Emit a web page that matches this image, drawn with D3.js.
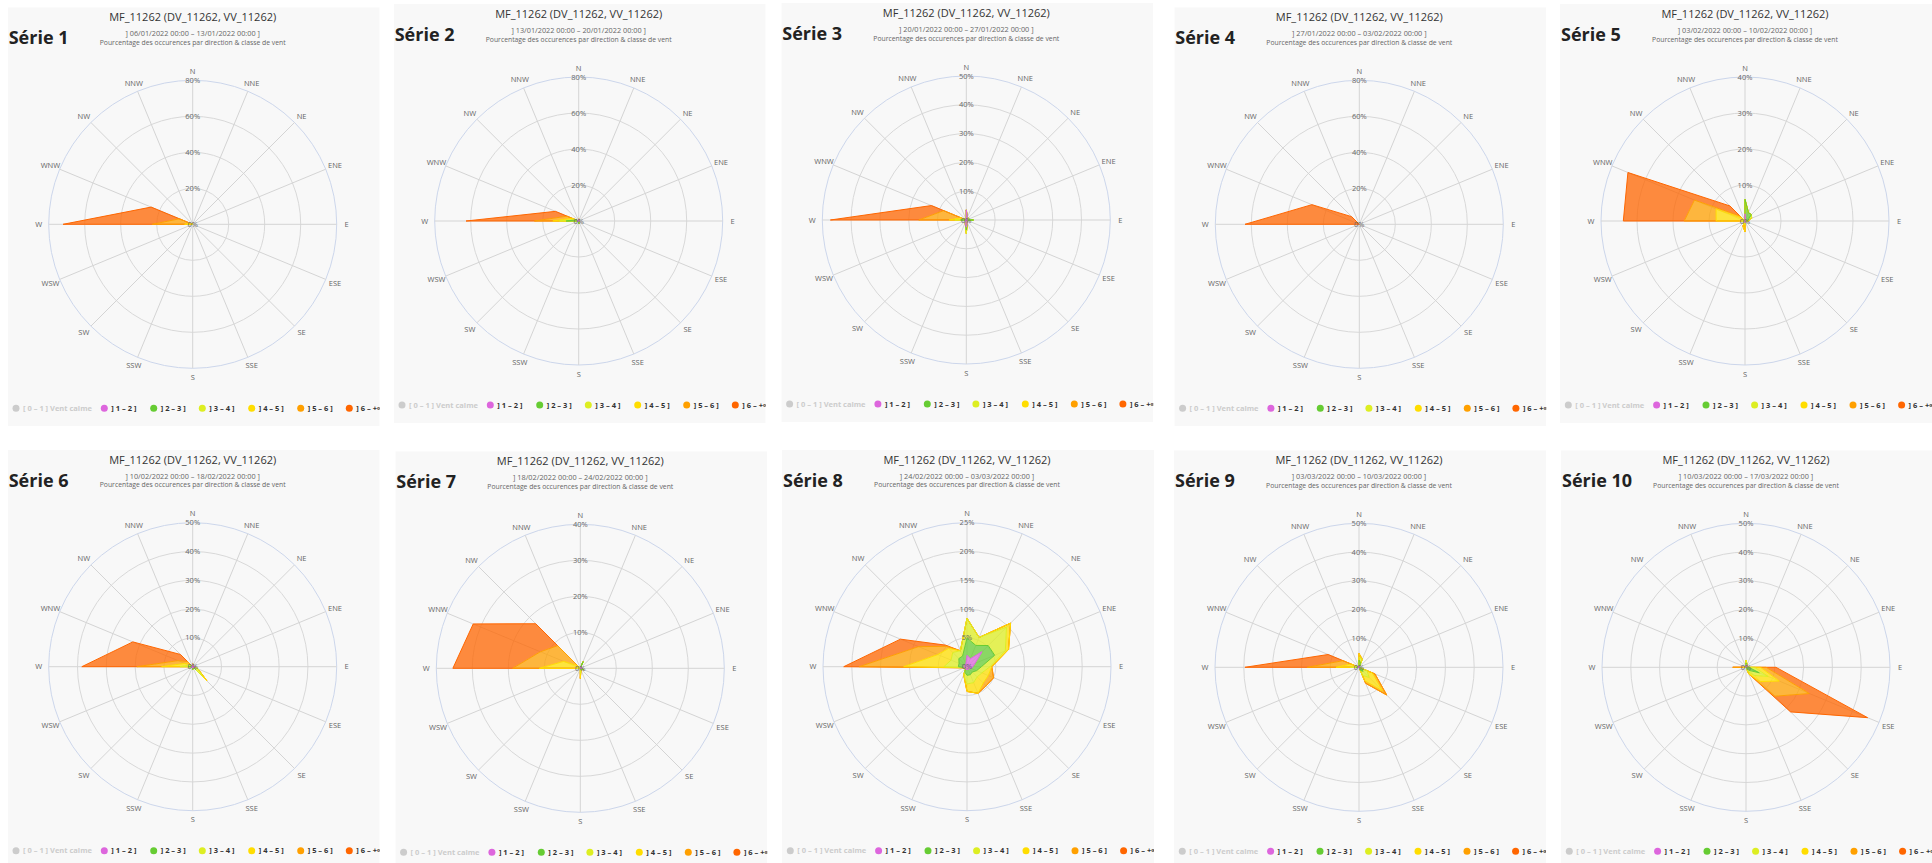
<!DOCTYPE html>
<html><head><meta charset="utf-8">
<script src="https://cdn.jsdelivr.net/npm/d3@7"></script>
<style>
body{margin:0;background:#fff;}
svg{display:block;}
text{font-family:"Open Sans","Noto Sans",sans-serif;}
</style>
</head><body>
<svg id="chart" width="1932" height="863"></svg>
<script>
// ---------- data ----------
const directions = ["N","NNE","NE","ENE","E","ESE","SE","SSE","S","SSW","SW","WSW","W","WNW","NW","NNW"];
const classLabels = ["[ 0 – 1 ] Vent calme","] 1 – 2 ]","] 2 – 3 ]","] 3 – 4 ]","] 4 – 5 ]","] 5 – 6 ]","] 6 – +∞ ["];
const classColors = ["#cccccc","#dd66dd","#66cc33","#ddee22","#ffdd00","#ffa000","#ff6600"];
const seriesNames = ["Série 1","Série 2","Série 3","Série 4","Série 5","Série 6","Série 7","Série 8","Série 9","Série 10"];
const stationTitle = "MF_11262 (DV_11262, VV_11262)";
const subtitleText = "Pourcentage des occurences par direction & classe de vent";
const periods = [
  "] 06/01/2022 00:00 – 13/01/2022 00:00 ]",
  "] 13/01/2022 00:00 – 20/01/2022 00:00 ]",
  "] 20/01/2022 00:00 – 27/01/2022 00:00 ]",
  "] 27/01/2022 00:00 – 03/02/2022 00:00 ]",
  "] 03/02/2022 00:00 – 10/02/2022 00:00 ]",
  "] 10/02/2022 00:00 – 18/02/2022 00:00 ]",
  "] 18/02/2022 00:00 – 24/02/2022 00:00 ]",
  "] 24/02/2022 00:00 – 03/03/2022 00:00 ]",
  "] 03/03/2022 00:00 – 10/03/2022 00:00 ]",
  "] 10/03/2022 00:00 – 17/03/2022 00:00 ]"
];
const axisMax  = [80,80,50,80,40,50,40,25,50,50];
const axisStep = [20,20,10,20,10,10,10,5,10,10];

// each series: classes ]1-2] ]2-3] ]3-4] ]4-5] ]5-6] ]6-..[ ; 16 directions N..NNW
//                 N  NNE NE ENE E  ESE SE SSE S  SSW SW WSW W    WNW  NW  NNW
const serie1 = [
  [0,0,0,0,0,0,0,0,0,0,0,0,0,0,0,0],
  [0,0,0,0,0,0,0,0,0,0,0,0,0,0,0,0],
  [0,0,0,0,0,0,0,0,0,0,0,0,0.5,0,0,0],
  [0,0,0,0,0,0,0,0,0,0,0,0,4,2,0,0],
  [0,0,0,0,0,0,0,0,0,0,0,0,18,6,0,0],
  [0,0,0,0,0,0,0,0,0,0,0,0,49.5,17,0,0]
];
const serie2 = [
  [1,1,0,0,0.5,0,0,0,0,0,0,0,1,0.5,0,0],
  [0,0,0,0,0,0,0,0.5,1.5,0,0,0,6,1,0,0],
  [0,0,0,0,0,0,0,0,0,0,0,0,3.7,1,0,0],
  [0,0,0,0,0,0,0,0,0,0,0,0,3.7,1.5,0,0],
  [0,0,0,0,0,0,0,0,0,0,0,0,10.2,3,0,0],
  [0,0,0,0,0,0,0,0,0,0,0,0,38,7,0,0]
];
const serie3 = [
  [3.5,1,0,0,0.5,0,0,1,2.5,1,0,0,0.5,0,0,0],
  [0,0,1,0,2,0,0.5,0,1,0,0,0,1.5,0,0,0],
  [0,0,0,0,0,0,0,0,1.2,0,0,0,2,0.5,0,0],
  [0,0,0,0,0,0,0,0,0,0,0,0,2,1.5,0,0],
  [0,0,0,0,0,0,0,0,0,0,0,0,10.5,6.5,0,0],
  [0,0,0,0,0,0,0,0,0,0,0,0,30.7,4.6,0,0]
];
const serie4 = [
  [0,0,0,0,0,0,0,0,0,0,0,0,0,0,0,0],
  [0,0,0,0,0,0,0,0,0,0,0,0,0,0,0,0],
  [0,0,0,0,0,0,0,0,0,0,0,0,0,0,0,0],
  [0,0,0,0,0,0,0,0,0,0,0,0,0,0,0,0],
  [0,0,0,0,0,0,0,0,0,0,0,0,0,0,0,0],
  [0,0,0,0,0,0,0,0,0,0,0,0,63.5,28.5,6,0]
];
const serie5 = [
  [2,0.5,0,0,0,0,0,0,0.5,0,0,0,0,0,0,0],
  [4,2,2.5,1,0.5,0,0,0,0,0,0,0,0,0,0,0],
  [0,0,0,1,0.5,0,0,0,0.5,0.5,0,0,1,0,0,0],
  [0,0,0,0,0,0,0,0,2,1,0,0,7,8.7,1,0],
  [0,0,0,0,0,0,0,0,0,0,0,0,8.9,6.5,1,0],
  [0,0,0,0,0,0,0,0,0,0,0,0,16.9,20,3.9,0]
];
const serie6 = [
  [1,0,0,0,1,0,0.5,0,0.5,0,0,0,0.5,0,0,0],
  [0,0,0,0,0,0.5,1,0,0.5,0,0,0,1,0.5,0,0],
  [0,0,0,0,0,1.5,3.5,0,0,0,0,0,2.9,1,0,0],
  [0,0,0,0,0,0,2,0,0,0,0,0,6.4,1.5,1,0],
  [0,0,0,0,0,0,0,0,0,0,0,0,8.6,2.5,1.5,0],
  [0,0,0,0,0,0,0,0,0,0,0,0,19.1,17,3.5,0]
];
const serie7 = [
  [0,0.5,0,0,0.5,0,0,0,0,0,0,0,0,0,0,0],
  [0,1.5,0,0,0,1,0,0.5,0,0,0,0,0,0,0,0],
  [0,0,0,0,0,0,0,0,1.5,0,0,0,1,0.5,0,0],
  [0,0,0,0,0,0,0,0,1.3,0,0,0,10.4,4.5,1,0],
  [0,0,0,0,0,0,0,0,0,0,0,0,7.4,7,7.9,0],
  [0,0,0,0,0,0,0,0,0,0,0,0,16.6,20.2,8.6,0]
];
const serie8 = [
  [2,1.5,3.7,1.5,1,0.8,0.5,0.5,0.5,0.5,0.3,0.5,0.5,0.5,0.5,0.5],
  [3,2.5,1.5,3.7,1.5,1,0.8,1,1,0.5,0,0,1,1,1.5,1.5],
  [3.4,1.5,4.5,2,1.5,1,1.2,1.5,1.5,0.5,0,0,2.5,1.5,1.5,1],
  [0,0,1,0.6,0.3,1.2,1.5,2,1.3,0,0,0,7,2.5,1,0],
  [0,0,0,0,0,1,0.7,0,0,0,0,0,7.7,3.6,0.5,0],
  [0,0,0,0,0,0,0,0,0,0,0,0,2.7,3.4,0.3,0]
];
const serie9 = [
  [0.5,0,0,0,0,0,0.5,0,0,0,0,0,0.5,0,0,0],
  [2,1.5,0,0,0,1,1.5,1,0,0,0,0,0.5,0,0,0],
  [1,1.5,0,0,0,2,3,2,0,0,0,0,2,1,0,0],
  [1.3,0,0,0,0,2,6.5,2,0,0,0,0,5,2,0,0],
  [0,0,0,0,0,1,2.1,1,0,0,0,0,10,3,0,0],
  [0,0,0,0,0,0,0,0,0,0,0,0,21.6,5.6,0,0]
];
const serie10 = [
  [0.5,1,0,0,0,0,0,0,0,0,0,0,0,0,0,0],
  [1,0,0,0,1,5,1.5,0.5,0,0,0,0,0,0,0,0],
  [1,0,0,0,2,3.3,2.5,1,0,0,0,0,0,0,0,0],
  [0,0,0,0,2,4.2,3,1,0,0,0,0,1,0,0,0],
  [0,0,0,0,2,11.3,7.2,0,0,0,0,0,3.6,0,0,0],
  [0,0,0,0,3.4,21.9,7.7,0,0,0,0,0,0,0,0,0]
];
const allSeries = [serie1,serie2,serie3,serie4,serie5,serie6,serie7,serie8,serie9,serie10];

// ---------- layout ----------
const panelCenters = [[192.7,224.3],[578.7,221],[966.3,220],[1359.3,224.3],[1745,221],
                      [192.7,666.7],[580.3,668.3],[967,666.7],[1359,667.3],[1746,667.3]];
const R = 144;
const legendOffsets = [-176.7,-88.4,-39,9.6,59,108,156.6];

const svg = d3.select("#chart");
const angle = d3.scaleLinear().domain([0, directions.length]).range([0, 2*Math.PI]);

allSeries.forEach((serie, p) => {
  const [cx, cy] = panelCenters[p];
  const g = svg.append("g");
  const clipId = "clip" + p;
  svg.append("clipPath").attr("id", clipId).append("rect")
    .attr("x", cx-185).attr("y", cy-217).attr("width", 372).attr("height", 419);
  g.attr("clip-path", `url(#${clipId})`);
  g.append("rect").attr("x", cx-185).attr("y", cy-217).attr("width", 372).attr("height", 419).attr("fill", "#f8f8f8");

  const r = d3.scaleLinear().domain([0, axisMax[p]]).range([0, R]);
  const ticks = d3.range(0, axisMax[p] + 0.001, axisStep[p]);
  const plot = g.append("g").attr("transform", `translate(${cx},${cy})`);

  // grid circles
  plot.selectAll("circle.grid").data(ticks.slice(1)).join("circle")
    .attr("r", d => r(d)).attr("fill", "none")
    .attr("stroke", d => d === axisMax[p] ? "#ccd6eb" : "#d8d8d8").attr("stroke-width", 1);
  // spokes
  plot.selectAll("line.spoke").data(directions).join("line")
    .attr("x1", 0).attr("y1", 0)
    .attr("x2", (d,i) => R*Math.sin(angle(i))).attr("y2", (d,i) => -R*Math.cos(angle(i)))
    .attr("stroke", "#d4d4d4").attr("stroke-width", 1);

  // stacked cumulative values
  const cum = [];
  let run = directions.map(() => 0);
  serie.forEach(cls => { run = run.map((v,i) => v + cls[i]); cum.push(run.slice()); });
  const radial = d3.lineRadial().angle((d,i) => angle(i)).radius(d => r(d)).curve(d3.curveLinearClosed);
  const zero = directions.map(() => 0);

  cum.forEach((outer, k) => {
    const inner = k === 0 ? zero : cum[k-1];
    plot.append("path")
      .attr("d", radial(outer) + radial(inner))
      .attr("fill", classColors[k+1]).attr("fill-opacity", 0.75)
      .attr("fill-rule", "evenodd").attr("stroke", "none");
  });
  // outlines: outer classes first so inner class lines sit on top where they coincide
  for (let k = cum.length - 1; k >= 0; k--) {
    if (d3.max(serie[k]) > 0)
      plot.append("path").attr("d", radial(cum[k]))
        .attr("fill", "none").attr("stroke", classColors[k+1]).attr("stroke-width", 1);
  }

  // tick labels
  plot.selectAll("text.tick").data(ticks).join("text")
    .attr("x", 0).attr("y", d => -r(d) + 2.5)
    .attr("text-anchor", "middle").attr("font-size", 7.5).attr("fill", "#666")
    .text(d => d + "%");
  // direction labels
  plot.selectAll("text.dir").data(directions).join("text")
    .attr("x", (d,i) => (R+10)*Math.sin(angle(i)))
    .attr("y", (d,i) => -(R+9)*Math.cos(angle(i)) + 2.7)
    .attr("text-anchor", "middle").attr("font-size", 7.5).attr("fill", "#666")
    .text(d => d);

  // titles
  g.append("text").attr("x", cx).attr("y", cy-203).attr("text-anchor", "middle")
    .attr("font-size", 11).attr("fill", "#333").text(stationTitle);
  g.append("text").attr("x", cx).attr("y", cy-188).attr("text-anchor", "middle")
    .attr("font-size", 7.3).attr("fill", "#666").text(periods[p]);
  g.append("text").attr("x", cx).attr("y", cy-179.5).attr("text-anchor", "middle")
    .attr("font-size", 6.8).attr("fill", "#666").text(subtitleText);
  g.append("text").attr("x", cx-184).attr("y", cy-180).attr("font-size", 18)
    .attr("font-weight", "bold").attr("fill", "#222").text(seriesNames[p]);

  // legend
  const leg = g.append("g").attr("transform", `translate(${cx},${cy+184})`);
  classLabels.forEach((lab, k) => {
    const x = legendOffsets[k];
    leg.append("circle").attr("cx", x).attr("cy", 0).attr("r", 3.5).attr("fill", classColors[k]);
    leg.append("text").attr("x", x + 7).attr("y", 2.6).attr("font-size", 7.5)
      .attr("font-weight", "bold").attr("fill", k === 0 ? "#cccccc" : "#333").text(lab);
  });
});
</script>
</body></html>
